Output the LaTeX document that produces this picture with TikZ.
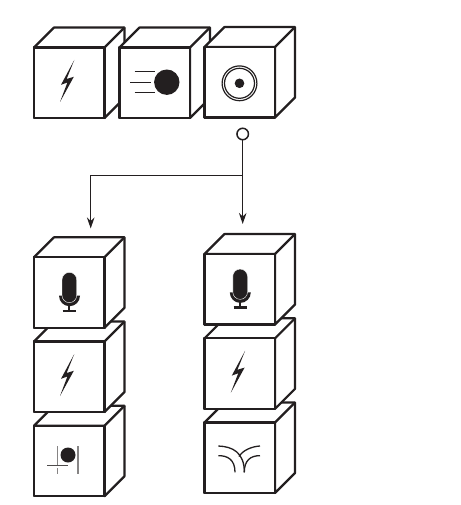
\documentclass[tikz,border=0pt]{standalone}
\usetikzlibrary{arrows.meta}
\definecolor{ink}{HTML}{231F20}
\tikzset{
  cubeline/.style={draw=ink,line width=2.2pt,line join=round,fill=white},
  conn/.style={draw=ink,line width=1.5pt},
  arr/.style={conn,-{Stealth[length=11pt,width=7.5pt,inset=3.5pt]}},
  thinl/.style={draw=ink,line width=1.3pt},
  ringnode/.style={circle,draw=ink,line width=1.5pt,fill=white,minimum size=11.5pt,inner sep=0pt},
  frontface/.style={cubeline,rectangle,minimum size=70.5pt,inner sep=0pt,outer sep=0pt,anchor=north west}
}
\newcommand{\cubebox}[3]{%
  \node[frontface] (#1) at (#2,#3) {};
  \draw[cubeline] (#1.north west) -- ++(20,-20) -- ++(70.5,0) -- ++(0,70.5) -- (#1.south east) -- (#1.north east) -- cycle;
  \draw[cubeline] (#1.north east) -- ++(20,-20);
  \node[frontface] at (#2,#3) {};
}
\newcommand{\bolticon}[2]{%
  \fill[ink,shift={(#1,#2)}] (40.3,12.5) -- (27,37.3) -- (33.4,35) -- (26,54.5) -- (39.8,29.3) -- (32.6,31.5) -- cycle;
}
\newcommand{\micicon}[2]{%
  \begin{scope}[shift={(#1,#2)}]
    \fill[ink] (25,38.4) arc[start angle=180,end angle=0,radius=10.5] -- cycle;
    \fill[ink,draw=white,line width=.4pt] (28,22.4) arc[start angle=180,end angle=360,radius=7.35] -- (42.7,38) arc[start angle=0,end angle=180,radius=7.35] -- cycle;
    \draw[ink,line width=1.8pt] (35.3,48) -- (35.3,53.4);
    \draw[ink,line width=2.4pt] (28.7,53.4) -- (41.7,53.4);
  \end{scope}
}
\begin{document}
\begin{tikzpicture}[x=1pt,y=-1pt]
\useasboundingbox (0,0) rectangle (460,505);
% top row
\cubebox{a}{34}{47.5}
\cubebox{b}{119.5}{47.5}
\cubebox{c}{204.5}{47}
% left column
\cubebox{l3}{34}{425.7}
\cubebox{l2}{34}{341.5}
\cubebox{l1}{34}{257.3}
% right column
\cubebox{r3}{204.5}{422.5}
\cubebox{r2}{204.5}{338.3}
\cubebox{r1}{204.5}{254}
% icons
\bolticon{34}{47.5}
\bolticon{34}{341.5}
\bolticon{204.8}{338.3}
\micicon{34}{257.3}
\micicon{204.8}{254}
% ball
\begin{scope}[shift={(119.5,47.5)}]
  \fill[ink] (47.3,34.7) circle[radius=12.7];
  \draw[thinl] (15,24) -- (35.7,24) (10.7,34.7) -- (31.3,34.7) (15,45) -- (35.7,45);
\end{scope}
% target
\begin{scope}[shift={(204.5,47)}]
  \draw[ink,line width=1.2pt] (35,36.3) circle[radius=17.4] (35,36.3) circle[radius=15];
  \fill[ink] (35,36.3) circle[radius=4.8];
\end{scope}
% detector icon
\begin{scope}[shift={(34,425.7)}]
  \fill[ink] (34,29.3) circle[radius=7.5];
  \draw[ink!55,line width=1.4pt] (23.7,20.3) -- (23.7,48) (44,20.3) -- (44,48);
  \draw[white,line width=1.6pt] (13.3,41.2) -- (34.3,41.2);
  \draw[ink!80,line width=1pt] (13.3,40) -- (34.3,40);
\end{scope}
% horn
\begin{scope}[shift={(204.5,422.5)}]
  \draw[thinl] (13.8,23.5) .. controls (28,24) and (40,30) .. (39.8,49.8);
  \draw[thinl] (13.8,33.2) .. controls (23,33) and (30.5,37) .. (30.5,49.8);
  \draw[thinl] (55.5,23.5) .. controls (47,24) and (38,28) .. (34.5,34);
  \draw[thinl] (55.5,33.2) .. controls (46,33) and (39.8,38) .. (39.8,49.8);
\end{scope}
% connectors
\node[ringnode] (ring) at (242.7,134) {};
\coordinate (junction) at (242.7,175.5);
\coordinate (corner) at (90.7,175.5);
\coordinate (endL) at (90.7,228.5);
\coordinate (endR) at (242.7,224);
\draw[conn] (ring) -- (junction);
\draw[arr] (junction) -- (corner) -- (endL);
\draw[arr] (junction) -- (endR);
\end{tikzpicture}
\end{document}
